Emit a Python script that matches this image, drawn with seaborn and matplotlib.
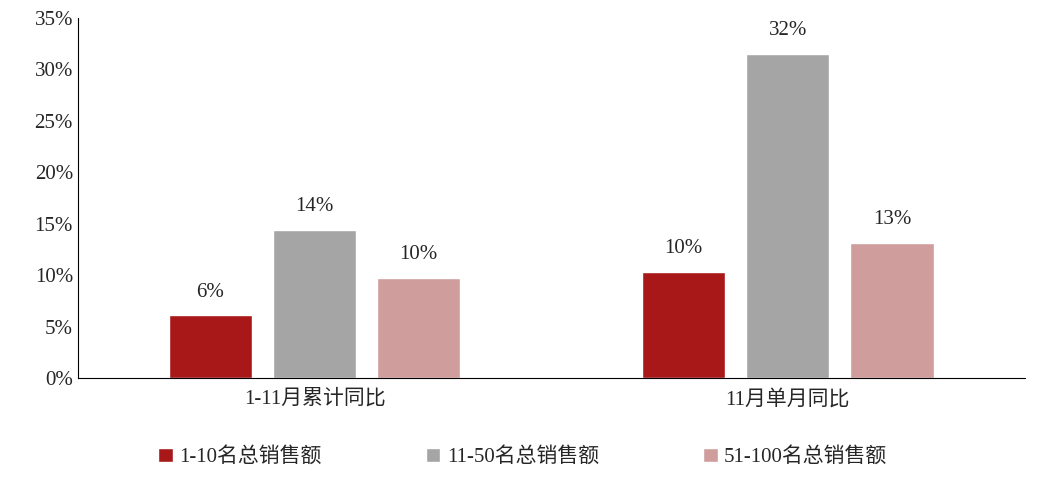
import matplotlib
matplotlib.use("Agg")
import matplotlib.pyplot as plt
import seaborn as sns
import pandas as pd
from matplotlib.ticker import FuncFormatter

categories = ["1-11月累计同比", "11月单月同比"]
series = ["1-10名总销售额", "11-50名总销售额", "51-100名总销售额"]
values = {
    "1-10名总销售额": [6.1, 10.3],
    "11-50名总销售额": [14.4, 31.5],
    "51-100名总销售额": [9.7, 13.1],
}
colors = ["#C00000", "#A5A5A5", "#D99594"]

sns.set_style("white")
plt.rcParams['font.family'] = ['Liberation Serif', 'Noto Sans CJK SC']

rows = []
for s in series:
    for c, v in zip(categories, values[s]):
        rows.append({"cat": c, "series": s, "val": v})
df = pd.DataFrame(rows)

fig = plt.figure(figsize=(10.38, 4.83), dpi=100)
ax = fig.add_axes([0.075, 0.217, 0.912, 0.746])
sns.barplot(data=df, x="cat", y="val", hue="series", palette=colors,
            width=0.66, gap=0.2, ax=ax, legend=True)
for cont in ax.containers:
    ax.bar_label(cont, labels=[f"{v:.0f}%" for v in cont.datavalues],
                 padding=10, fontsize=15)
ax.set_xlim(-0.5, 1.5)
ax.set_ylim(0, 35)
ax.set_yticks(range(0, 36, 5))
ax.yaxis.set_major_formatter(FuncFormatter(lambda v, p: f"{v:.0f}%"))
ax.tick_params(axis='both', labelsize=15, length=0)
ax.tick_params(axis='x', pad=8)
ax.set_xlabel("")
ax.set_ylabel("")
for sp in ["top", "right"]:
    ax.spines[sp].set_visible(False)
for sp in ["left", "bottom"]:
    ax.spines[sp].set_color("black")
    ax.spines[sp].set_linewidth(0.8)
ax.legend(loc="upper center", bbox_to_anchor=(0.47, -0.14), ncol=3,
          frameon=False, fontsize=15, handlelength=0.7, handleheight=0.7,
          columnspacing=5, handletextpad=0.3)
fig.savefig("out.png", dpi=100)
